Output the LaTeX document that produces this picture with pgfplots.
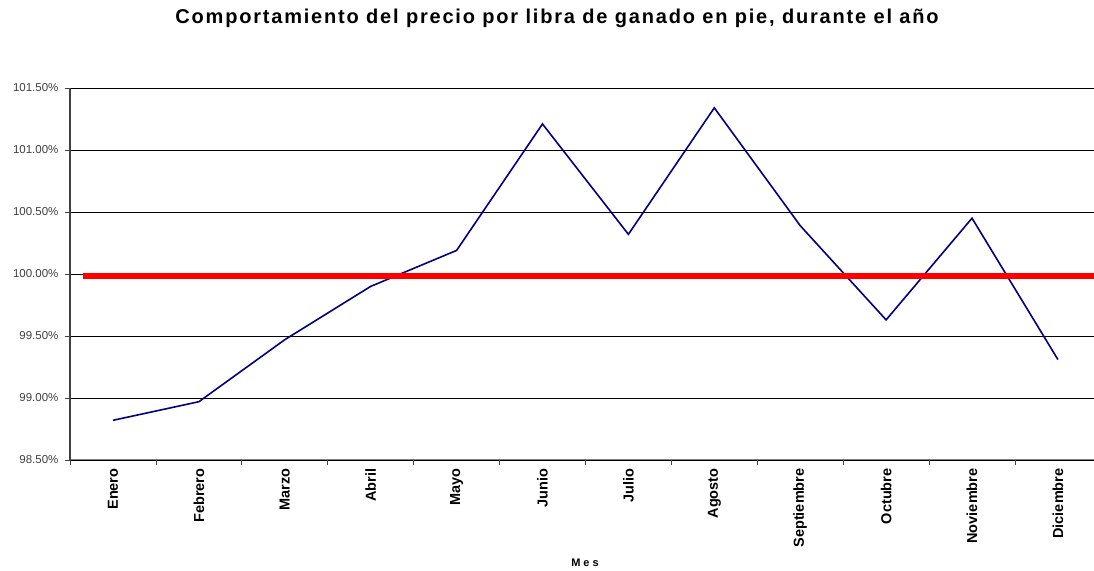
\documentclass[border=0pt]{standalone}
\usepackage{pgfplots}
\pgfplotsset{compat=1.18}
\usepackage{fontspec}
\setmainfont{Liberation Sans}
\definecolor{navyline}{RGB}{0,0,128}
\definecolor{axgray}{RGB}{64,64,64}
\begin{document}
\begin{tikzpicture}[x=1pt,y=1pt]
\begin{axis}[
  name=ax,
  at={(0,0)}, anchor=south west,
  scale only axis,
  width=1024pt, height=372pt,
  xmin=-0.5, xmax=11.42,
  ymin=98.5, ymax=101.5,
  axis x line*=bottom,
  axis y line*=left,
  x axis line style={draw=gray, line width=1pt, -},
  y axis line style={draw=axgray, line width=1.5pt, -},
  xtick={0,...,11},
  xticklabels={Enero,Febrero,Marzo,Abril,Mayo,Junio,Julio,Agosto,Septiembre,Octubre,Noviembre,Diciembre},
  x tick label style={rotate=90, anchor=east, font=\fontsize{14.5}{14.5}\selectfont\bfseries, yshift=0pt},
  major x tick style={draw=none},
  minor xtick={-0.5,0.5,...,11.5},
  minor x tick style={draw=axgray, line width=0.8pt},
  minor tick length=5pt,
  tick align=outside,
  ytick={98.5,99,...,101.5},
  major y tick style={draw=axgray, line width=0.8pt},
  major tick length=5pt,
  ymajorgrids,
  grid style={black, line width=0.8pt},
  yticklabel={\pgfmathprintnumber[fixed,fixed zerofill,precision=2]{\tick}\%},
  y tick label style={font=\fontsize{11.5}{11.5}\selectfont, text=axgray, xshift=-3pt},
  /pgf/number format/assume math mode=true,
  clip=false,
]
\addplot[navyline, line width=1.6pt] coordinates {
  (0,98.82) (1,98.97) (2,99.47) (3,99.90) (4,100.19) (5,101.21)
  (6,100.32) (7,101.34) (8,100.39) (9,99.63) (10,100.45) (11,99.31)
};
\addplot[red, line width=6pt] coordinates {(-0.35,99.985) (11.42,99.985)};
\end{axis}
\node[font=\fontsize{20}{20}\selectfont\bfseries\addfontfeature{LetterSpace=9}] at ([xshift=487pt,yshift=442pt]ax.south west) {Comportamiento del precio por libra de ganado en pie, durante el año};
\node[font=\fontsize{11}{11}\selectfont\bfseries] at ([xshift=515pt,yshift=-103pt]ax.south west) {M e s};
\pgfresetboundingbox
\path ([xshift=-70pt,yshift=-111pt]ax.south west) rectangle ([yshift=88pt]ax.north east);
\end{tikzpicture}
\end{document}
